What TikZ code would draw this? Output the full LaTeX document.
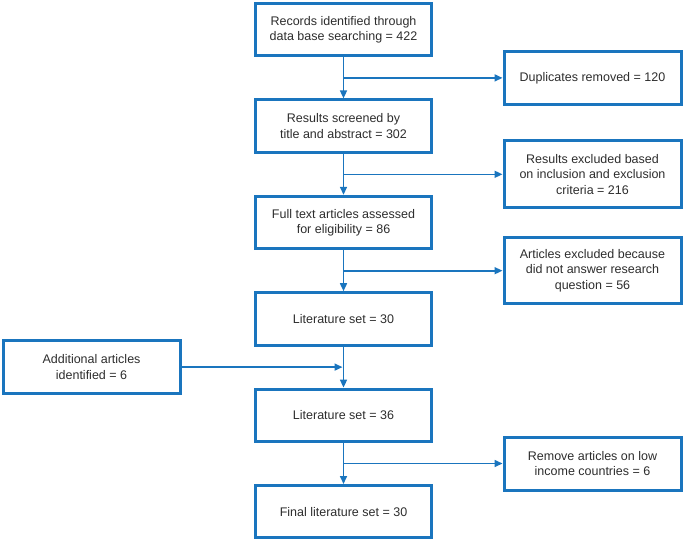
\documentclass[tikz,border=0pt]{standalone}
\usepackage{fontspec}
\setmainfont{Liberation Sans}
\usepackage{tikz}
\usetikzlibrary{positioning, arrows.meta, calc}
\usepackage{xcolor}
\definecolor{flowblue}{RGB}{26,117,190}
\definecolor{flowtext}{RGB}{45,45,45}

\begin{document}
\begin{tikzpicture}[x=1pt, y=1pt, node distance=41pt,
    box/.style={draw=flowblue, line width=3pt, rectangle, align=center, text=flowtext,
        minimum width=176pt, minimum height=52.4pt, font=\fontsize{12.5}{15.3}\selectfont},
    sidebox/.style={box, minimum width=177pt, minimum height=53pt},
    arr/.style={draw=flowblue, line width=1.6pt, -{Triangle[length=8pt, width=7pt]}}]
    \useasboundingbox (0,0) rectangle (685,-543);

    % Main chain
    \node[box] (rec) at (343.5,-29.7) {Records identified through\\data base searching = 422};
    \node[box, below=of rec] (screen) {Results screened by\\title and abstract = 302};
    \node[box, below=of screen] (full) {Full text articles assessed\\for eligibility = 86};
    \node[box, below=of full] (lit) {Literature set = 30};
    \node[box, below=of lit] (litb) {Literature set = 36};
    \node[box, below=of litb] (final) {Final literature set = 30};

    % Junctions between the boxes
    \coordinate (j1) at ($(rec.south)!0.5!(screen.north)$);
    \coordinate (j2) at ($(screen.south)!0.5!(full.north)$);
    \coordinate (j3) at ($(full.south)!0.5!(lit.north)$);
    \coordinate (j4) at ($(lit.south)!0.5!(litb.north)$);
    \coordinate (j5) at ($(litb.south)!0.5!(final.north)$);

    % Side boxes
    \node[sidebox, right=159pt of j1] (dup) {Duplicates removed = 120};
    \node[sidebox, minimum height=67pt, right=159pt of j2] (excl) {Results excluded based\\on inclusion and exclusion\\criteria = 216};
    \node[sidebox, minimum height=66pt, right=159pt of j3] (noans) {Articles excluded because\\did not answer research\\question = 56};
    \node[sidebox, left=162pt of j4] (add) {Additional articles\\identified = 6};
    \node[sidebox, right=159pt of j5] (lowinc) {Remove articles on low\\income countries = 6};

    % Relationships
    \draw[arr] (rec) -- (screen);
    \draw[arr] (screen) -- (full);
    \draw[arr] (full) -- (lit);
    \draw[arr] (lit) -- (litb);
    \draw[arr] (litb) -- (final);
    \draw[arr] (j1) -- (dup);
    \draw[arr] (j2) -- (excl);
    \draw[arr] (j3) -- (noans);
    \draw[arr] (j5) -- (lowinc);
    \draw[arr, shorten >=1pt] (add) -- (j4);
\end{tikzpicture}
\end{document}
